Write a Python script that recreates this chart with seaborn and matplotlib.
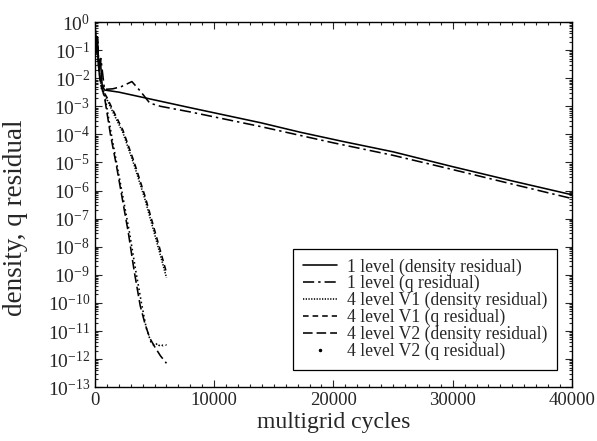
import matplotlib
matplotlib.use("Agg")
import matplotlib.pyplot as plt
from matplotlib.lines import Line2D
from matplotlib.ticker import LogLocator, MultipleLocator, NullFormatter
import seaborn as sns
import pandas as pd

# 1 level, density residual
x_1d = [0, 100, 200, 300, 450, 600, 800, 2000, 4200, 8000, 13900, 17200, 20800, 25000, 30000, 35000, 40000]
y_1d = [1.0, 0.1, 0.3, 0.03, 0.05, 6e-3, 3.8e-3, 3.2e-3, 2.0e-3, 8.9e-4, 2.6e-4, 1.2e-4, 5.6e-5, 2.4e-5, 7.1e-6, 2.2e-6, 7.1e-7]

# 1 level, q residual
x_1q = [0, 100, 200, 350, 500, 800, 1500, 2200, 3100, 3800, 4600, 5500, 8000, 13900, 20000, 25000, 30000, 35000, 40000]
y_1q = [1.0, 0.08, 0.3, 0.016, 0.05, 4e-3, 4.2e-3, 5e-3, 7.6e-3, 3.5e-3, 1.3e-3, 1e-3, 6.3e-4, 1.9e-4, 5e-5, 1.8e-5, 5.6e-6, 1.7e-6, 5.2e-7]

# 4 level V1
x_v1 = [0, 100, 200, 300, 560, 1000, 1500, 2350, 3300, 4200, 5100, 6000]
y_v1d = [1.0, 0.16, 0.3, 0.025, 4e-3, 1.8e-3, 6.3e-4, 1.15e-4, 7.9e-6, 4.8e-7, 2e-8, 8e-10]
y_v1q = [1.0, 0.2, 0.35, 0.03, 4.5e-3, 2.1e-3, 7.5e-4, 1.4e-4, 1.0e-5, 6.3e-7, 2.8e-8, 1.2e-9]

# 4 level V2, density residual
x_v2d = [0, 100, 200, 400, 840, 1300, 1820, 2300, 2800, 3300, 3800, 4200, 4600, 5000, 5500, 6000]
y_v2d = [1.0, 0.1, 0.2, 0.01, 1.7e-3, 1e-4, 7.1e-6, 5e-7, 3.2e-8, 1.3e-9, 7.9e-11, 1.8e-11, 5.6e-12, 2.8e-12, 1.3e-12, 7.1e-13]

# 4 level V2, q residual
x_v2q = [0, 100, 200, 400, 900, 1400, 1900, 2400, 2900, 3400, 3900, 4300, 4700, 4900, 5100, 5300, 5500, 5700, 5900, 6000]
y_v2q = [1.0, 0.13, 0.25, 0.013, 1.6e-3, 8.9e-5, 6.3e-6, 4.5e-7, 3.2e-8, 1.6e-9, 1e-10, 1.3e-11, 4e-12, 3.2e-12, 3.8e-12, 2.8e-12, 3.5e-12, 3e-12, 3.3e-12, 3.1e-12]

labels = ["1 level (density residual)", "1 level (q residual)",
          "4 level V1 (density residual)", "4 level V1 (q residual)",
          "4 level V2 (density residual)", "4 level V2 (q residual)"]

sns.set_style("ticks")
plt.rcParams["font.family"] = ["Liberation Serif", "DejaVu Serif"]
plt.rcParams["mathtext.fontset"] = "custom"
plt.rcParams["mathtext.rm"] = "Liberation Serif"
plt.rcParams["mathtext.it"] = "Liberation Serif:italic"

fig, ax = plt.subplots(figsize=(5.97, 4.41), dpi=100)
fig.subplots_adjust(left=0.159, right=0.958, top=0.950, bottom=0.122)

lw = 1.15
series = [
    (x_1d, y_1d, "-"),
    (x_1q, y_1q, (0, (7, 2.5, 1.5, 2.5))),
    (x_v1, y_v1d, (0, (0.8, 0.9))),
    (x_v1, y_v1q, (0, (3.5, 2.5))),
    (x_v2d, y_v2d, (0, (6, 2.5))),
    (x_v2q, y_v2q, (0, (1, 1.8))),
]
handles = []
for (xs, ys, ls), lab in zip(series, labels):
    df = pd.DataFrame({"cycles": xs, "res": ys})
    sns.lineplot(data=df, x="cycles", y="res", ax=ax, color="black", lw=lw, linestyle=ls)
    ax.lines[-1].set_linestyle(ls)
    handles.append(Line2D([], [], color="black", lw=lw, linestyle=ls))
handles[-1] = Line2D([], [], color="black", ls="none", marker=".", markersize=3)

ax.set_yscale("log")
ax.set_ylim(1e-13, 1)
ax.set_xlim(0, 40000)
ax.yaxis.set_major_locator(LogLocator(base=10, numticks=20))
ax.yaxis.set_minor_locator(LogLocator(base=10, subs=range(2, 10), numticks=200))
ax.yaxis.set_minor_formatter(NullFormatter())
ax.xaxis.set_major_locator(MultipleLocator(10000))
ax.xaxis.set_minor_locator(MultipleLocator(1000))
ax.tick_params(which="both", direction="in", top=True, right=True, width=0.8)
ax.tick_params(which="major", length=5, labelsize=14)
ax.tick_params(axis="x", which="major", labelsize=13.5)
ax.tick_params(which="minor", length=2.5)
for s in ax.spines.values():
    s.set_linewidth(1.0)
    s.set_color("black")

ax.set_xlabel("multigrid cycles", fontsize=17, labelpad=2)
ax.set_ylabel("density, q residual", fontsize=19.5)
ax.yaxis.set_label_coords(-0.14, 0.463)

leg = ax.legend(handles, labels, loc="lower right", bbox_to_anchor=(0.969, 0.047),
                borderaxespad=0, fontsize=12.7, frameon=True, fancybox=False,
                framealpha=1, edgecolor="black", handlelength=1.95,
                handletextpad=0.55, labelspacing=-0.02, borderpad=0.55)
leg.get_frame().set_linewidth(0.9)

plt.savefig("out.png", dpi=100)
